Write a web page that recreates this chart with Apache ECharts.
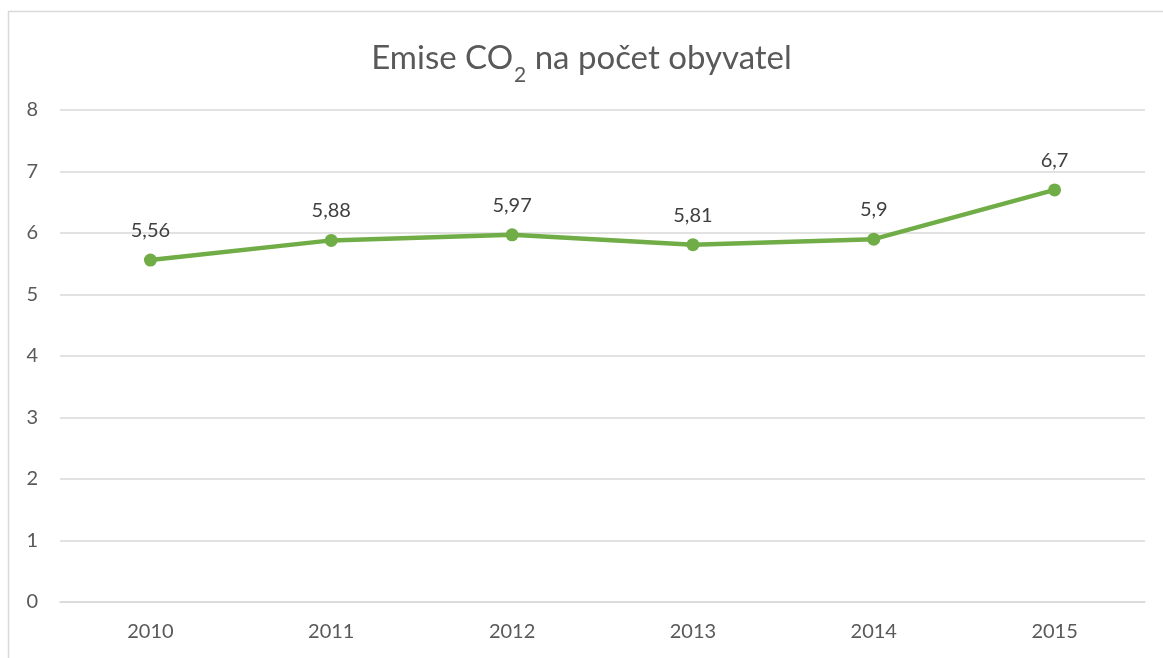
<!DOCTYPE html>
<html>
<head>
<meta charset="utf-8">
<script src="https://cdn.jsdelivr.net/npm/echarts@6/dist/echarts.min.js"></script>
<style>
  html, body { margin: 0; padding: 0; background: #fff; }
  #chart { width: 1163px; height: 658px; }
</style>
</head>
<body>
<div id="chart"></div>
<script>
  // data
  var years = ['2010', '2011', '2012', '2013', '2014', '2015']
  var emise = [5.56, 5.88, 5.97, 5.81, 5.9, 6.7]
  var yMin = 0
  var yMax = 8

  var font = 'Lato, "Open Sans", sans-serif'
  var chart = echarts.init(document.getElementById('chart'))
  var option = {
    backgroundColor: '#fff',
    textStyle: { fontFamily: font },
    graphic: [{
      type: 'rect',
      shape: { x: 8.5, y: 11.5, width: 1200, height: 700 },
      style: { fill: 'none', stroke: '#d9d9d9', lineWidth: 1.5 },
      silent: true
    }],
    title: {
      // dolni index u CO2 pres rich text
      text: '{a|Emise CO}{b|2}{a| na počet obyvatel}',
      left: 'center',
      top: 37,
      textStyle: {
        rich: {
          a: { fontSize: 33, fontWeight: 'normal', color: '#595959', fontFamily: font, lineHeight: 40, verticalAlign: 'top' },
          b: { fontSize: 21, fontWeight: 'normal', color: '#595959', fontFamily: font, lineHeight: 66, verticalAlign: 'middle', padding: [0, 0, 0, 1] }
        }
      }
    },
    grid: { left: 60, right: 18, top: 110, bottom: 56 },
    xAxis: {
      type: 'category',
      data: years,
      boundaryGap: true,
      axisLine: { show: true, lineStyle: { color: '#d9d9d9', width: 1.5 } },
      axisTick: { show: false },
      axisLabel: { color: '#595959', fontSize: 20, margin: 20, fontFamily: font }
    },
    yAxis: {
      type: 'value',
      min: yMin,
      max: yMax,
      interval: 1,
      axisLine: { show: false },
      axisTick: { show: false },
      splitLine: { lineStyle: { color: '#d9d9d9', width: 1.5 } },
      axisLabel: { color: '#595959', fontSize: 20, margin: 22, fontFamily: font }
    },
    series: [{
      type: 'line',
      data: emise,
      symbol: 'circle',
      symbolSize: 13,
      lineStyle: { color: '#70ad47', width: 4.5 },
      itemStyle: { color: '#70ad47' },
      label: {
        show: true,
        position: 'top',
        distance: 13,
        color: '#404040',
        fontSize: 20,
        fontFamily: font,
        formatter: function (p) { return String(p.value).replace('.', ',') }
      },
      animation: false
    }],
    animation: false
  }
  chart.setOption(option)
  window.addEventListener('resize', () => {
    chart.resize()
  })
</script>
</body>
</html>
